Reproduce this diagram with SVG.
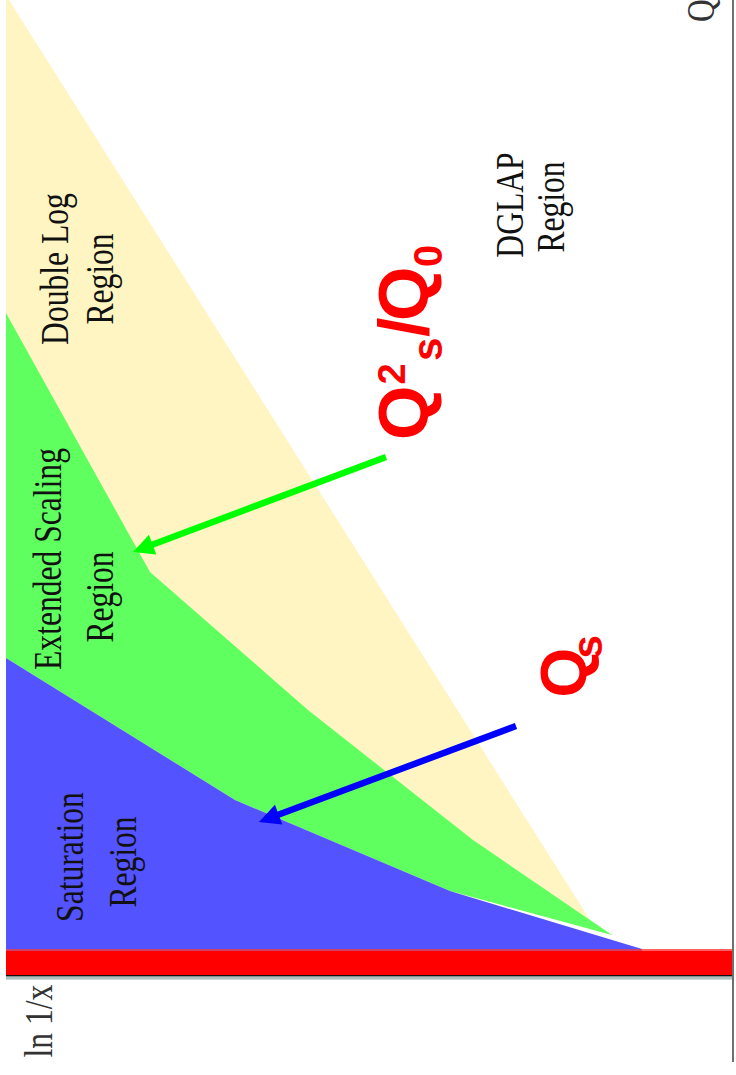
<svg xmlns="http://www.w3.org/2000/svg" width="736" height="1075" viewBox="0 0 736 1075">
  <style>
    .lbl { font-family: "Liberation Serif", "Times New Roman", serif; font-size: 31.6px; fill: #111; text-anchor: middle; }
    .ax { font-family: "Liberation Serif", "Times New Roman", serif; font-size: 31.6px; fill: #333; }
    .q { font-family: "Liberation Sans", Arial, sans-serif; font-weight: bold; fill: #ff0000; }
  </style>
  <defs>
    <marker id="headG" markerUnits="userSpaceOnUse" markerWidth="30" markerHeight="30" refX="9" refY="0" orient="auto" overflow="visible">
      <path d="M0,-10.5 L21,0 L0,10.5 z" fill="#00ff00"/>
    </marker>
    <marker id="headB" markerUnits="userSpaceOnUse" markerWidth="30" markerHeight="30" refX="9" refY="0" orient="auto" overflow="visible">
      <path d="M0,-10.5 L21,0 L0,10.5 z" fill="#0000ff"/>
    </marker>
  </defs>
  <rect width="736" height="1075" fill="#ffffff"/>

  <g id="regions">
    <polygon id="double-log" points="6,0 9,0 590,920 612,935 450,891 235,800 6,658" fill="#fff5c2"/>
    <polygon id="extended-scaling" points="6,313 150,572 308,710 473,840 612,935 450,891 235,800 6,658" fill="#60ff60"/>
    <polygon id="saturation" points="6,658 235,800 450,891 642,949 6,949" fill="#5353ff"/>
    <rect x="6" y="949" width="727" height="26" fill="#ff0000"/>
    <rect x="6" y="949" width="636" height="2" fill="#d0406a"/>
    <rect x="642" y="949" width="91" height="2" fill="#ff6060"/>
    <rect x="6" y="975" width="727" height="1.6" fill="#111"/>
    <rect x="6" y="976.6" width="727" height="3" fill="#aec0c0"/>
    <rect x="732" y="0" width="2" height="1062" fill="#707070"/>
  </g>

  <g id="labels">
    <g id="node-double-log">
      <text class="lbl" transform="translate(68,269) rotate(-90) scale(1,1.24)">Double Log</text>
      <text class="lbl" transform="translate(113,279) rotate(-90) scale(1,1.24)">Region</text>
    </g>
    <g id="node-dglap">
      <text class="lbl" transform="translate(523,205) rotate(-90) scale(1,1.24)">DGLAP</text>
      <text class="lbl" transform="translate(564,207) rotate(-90) scale(1,1.24)">Region</text>
    </g>
    <g id="node-extended">
      <text class="lbl" transform="translate(61,559) rotate(-90) scale(1,1.24)">Extended Scaling</text>
      <text class="lbl" transform="translate(113,597) rotate(-90) scale(1,1.24)">Region</text>
    </g>
    <g id="node-saturation">
      <text class="lbl" transform="translate(83,857) rotate(-90) scale(1,1.24)">Saturation</text>
      <text class="lbl" transform="translate(136,862) rotate(-90) scale(1,1.24)">Region</text>
    </g>
    <g id="axes">
      <text class="ax" text-anchor="middle" transform="translate(52,1021) rotate(-90) scale(1,1.24)">ln 1/x</text>
      <text class="ax" transform="translate(714,22) rotate(-90) scale(1,1.24)">Q</text>
    </g>
    <g id="node-q2s">
      <text class="q" transform="translate(428,440) rotate(-90)"><tspan x="0" y="0" font-size="70">Q</tspan><tspan x="55.5" y="-23" font-size="38">2</tspan><tspan x="79" y="14" font-size="42">s</tspan><tspan x="103" y="0" font-size="70">/</tspan><tspan x="119" y="0" font-size="70">Q</tspan><tspan x="173" y="14" font-size="40">0</tspan></text>
    </g>
    <g id="node-qs">
      <text class="q" transform="translate(586,697.5) rotate(-90)"><tspan x="0" y="0" font-size="64">Q</tspan><tspan x="39" y="16" font-size="42">s</tspan></text>
    </g>
  </g>

  <g id="connectors">
    <line x1="386" y1="457" x2="144.2" y2="547.8" stroke="#00ff00" stroke-width="6.5" marker-end="url(#headG)"/>
    <line x1="516" y1="726" x2="270.2" y2="817.8" stroke="#0000ff" stroke-width="6.5" marker-end="url(#headB)"/>
  </g>
</svg>
